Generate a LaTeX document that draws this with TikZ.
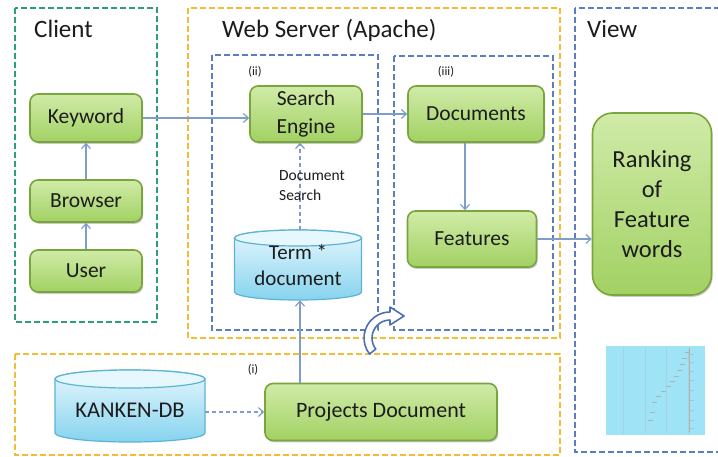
\documentclass[tikz,border=0pt]{standalone}
\usepackage{fontspec}
\setmainfont{Carlito}
\usetikzlibrary{arrows.meta,shadows}
\definecolor{greenTop}{HTML}{D0EBA8}
\definecolor{greenBot}{HTML}{A2D163}
\definecolor{greenBorder}{HTML}{78A63C}
\definecolor{cylTop}{HTML}{E6F7FD}
\definecolor{cylBot}{HTML}{86D3EF}
\definecolor{cylBorder}{HTML}{5DB3D6}
\definecolor{arrowCol}{HTML}{7E9DCB}
\definecolor{dashGreen}{HTML}{2F9E72}
\definecolor{dashYellow}{HTML}{F2BC33}
\definecolor{dashBlue}{HTML}{5A7EBE}
\definecolor{txt}{HTML}{1C1C1C}
\definecolor{chartCol}{HTML}{9FE4F6}
\definecolor{curveCol}{HTML}{4D70B4}
\begin{document}
\begin{tikzpicture}[x=1pt,y=-1pt,
  gbox/.style={draw=greenBorder, line width=1.6pt, rounded corners=8pt,
    top color=greenTop, bottom color=greenBot, align=center, text=txt,
    font=\fontsize{21.5}{28}\selectfont, inner sep=0pt,
    drop shadow={shadow xshift=1.2pt, shadow yshift=-1.8pt, opacity=0.35, fill=black!60}},
  cylbody/.style={top color=cylTop, bottom color=cylBot, draw=cylBorder, line width=1.2pt},
  cyltop/.style={fill=cylTop, draw=cylBorder, line width=1.2pt},
  cyltext/.style={align=center, text=txt, font=\fontsize{21}{26}\selectfont, inner sep=0pt},
  grp/.style={line width=1.8pt, dash pattern=on 6pt off 3pt},
  conn/.style={draw=arrowCol, line width=1.2pt, -{Straight Barb[length=5pt,width=9pt]}},
  title/.style={anchor=base west, text=txt, font=\fontsize{25}{30}\selectfont, inner sep=0pt},
  small/.style={text=txt, font=\fontsize{12.5}{14}\selectfont, inner sep=0pt}
]
\useasboundingbox (0,0) rectangle (718,456);
\fill[white] (0,0) rectangle (718,456);

% group boxes
\draw[grp, draw=dashGreen] (15,8) rectangle (157,322);
\draw[grp, draw=dashYellow] (188,8) rectangle (560,338);
\draw[grp, draw=dashBlue] (212,55) rectangle (378,330);
\draw[grp, draw=dashBlue] (394,56) rectangle (553,330);
\draw[grp, draw=dashYellow] (15,354) rectangle (560,455);
\draw[grp, draw=dashBlue] (575,8) rectangle (730,452);

% titles
\node[title] (tclient) at (34,37) {Client};
\node[title] (tweb) at (222,37) {Web Server (Apache)};
\node[title] (tview) at (587,37) {View};
\node[small] (lii) at (255,72) {(ii)};
\node[small] (liii) at (446,72) {(iii)};
\node[small] (li) at (253,370) {(i)};

% green boxes
\node[gbox, minimum width=112, minimum height=48] (kw) at (86,118) {Keyword};
\node[gbox, minimum width=112, minimum height=42] (br) at (86,201) {Browser};
\node[gbox, minimum width=112, minimum height=42] (us) at (86,271) {User};
\node[gbox, minimum width=112, minimum height=56] (se) at (306,114) {Search\\Engine};
\node[gbox, minimum width=136, minimum height=56] (doc) at (476,114) {Documents};
\node[gbox, minimum width=129, minimum height=56] (feat) at (472,239) {Features};
\node[gbox, minimum width=119, minimum height=182, rounded corners=20pt,
  font=\fontsize{24.5}{30}\selectfont] (rank) at (652,204) {Ranking\\of\\Feature\\words};
\node[gbox, minimum width=232, minimum height=57, font=\fontsize{22}{28}\selectfont] (proj) at (381,412) {Projects Document};

% cylinders
\begin{scope}[shift={(298,265)}, x=1pt, y=1pt]
  \path[cylbody] (-63.5,27) -- (-63.5,-27) arc[start angle=180, end angle=360, x radius=63.5, y radius=8] -- (63.5,27) arc[start angle=0, end angle=180, x radius=63.5, y radius=8] -- cycle;
  \path[cyltop] (0,27) ellipse [x radius=63.5, y radius=8];
\end{scope}
\node[cyltext, minimum width=127, minimum height=70] (term) at (298,265) {\raisebox{-5pt}{\parbox{120pt}{\centering Term *\\document}}};

\begin{scope}[shift={(130,406)}, x=1pt, y=1pt]
  \path[cylbody] (-75,27) -- (-75,-27) arc[start angle=180, end angle=360, x radius=75, y radius=9] -- (75,27) arc[start angle=0, end angle=180, x radius=75, y radius=9] -- cycle;
  \path[cyltop] (0,27) ellipse [x radius=75, y radius=9];
\end{scope}
\node[cyltext, font=\fontsize{22.5}{26}\selectfont, minimum width=150, minimum height=72] (kdb) at (130,410) {KANKEN-DB};

% connectors
\draw[conn] (us.north) -- (br.south);
\draw[conn] (br.north) -- (kw.south);
\draw[conn] (kw.east) -- (kw.east -| se.west);
\draw[conn] (se.east) -- (se.east -| doc.west);
\draw[conn] ([xshift=-11pt]doc.south) -- ([xshift=-11pt]doc.south |- feat.north);
\draw[conn] (feat.east) -- (feat.east -| rank.west);
\draw[conn, dash pattern=on 4pt off 3pt] ([xshift=2pt]term.north) -- ([xshift=2pt]term.north |- se.south);
\draw[conn] (proj.north -| 300,0) -- ([xshift=2pt]term.south);
\draw[conn, dash pattern=on 4pt off 3pt] (kdb.east |- proj.west) -- (proj.west);

\node[small, font=\fontsize{15.5}{20}\selectfont, align=left] (dsearch) at (312,186) {Document\\Search};

% curved block arrow
\begin{scope}[shift={(390,338)}, x=1pt, y=1pt]
  \draw[curveCol, fill=white, line width=1.6pt, line join=round]
    (218:26) arc[start angle=218, end angle=90, radius=26] -- (0,31) -- (14,22) -- (0,13) -- (0,18)
    arc[start angle=90, end angle=218, radius=18] -- cycle;
\end{scope}

% chart image
\fill[chartCol] (606,346) rectangle (705,435);
\foreach \xx in {623,645,666,688} \draw[cyan!50!gray!50, line width=0.4pt] (\xx,347) -- (\xx,434);
\draw[gray!60, line width=0.6pt] (689,348) -- (689,432);
\foreach \xx/\yy in {685/352,682/358,680/364,677/370,674/376,670/381,666/386,661/391,656/396,652/402,650/412,648/420}
  \draw[gray!60, line width=0.5pt] (\xx,\yy) -- (\xx+5,\yy);
\foreach \yy in {354,362,371,380,390,400,410,420,428}
  \draw[gray!60, line width=0.5pt] (689,\yy) -- (694,\yy+1);
\end{tikzpicture}
\end{document}
